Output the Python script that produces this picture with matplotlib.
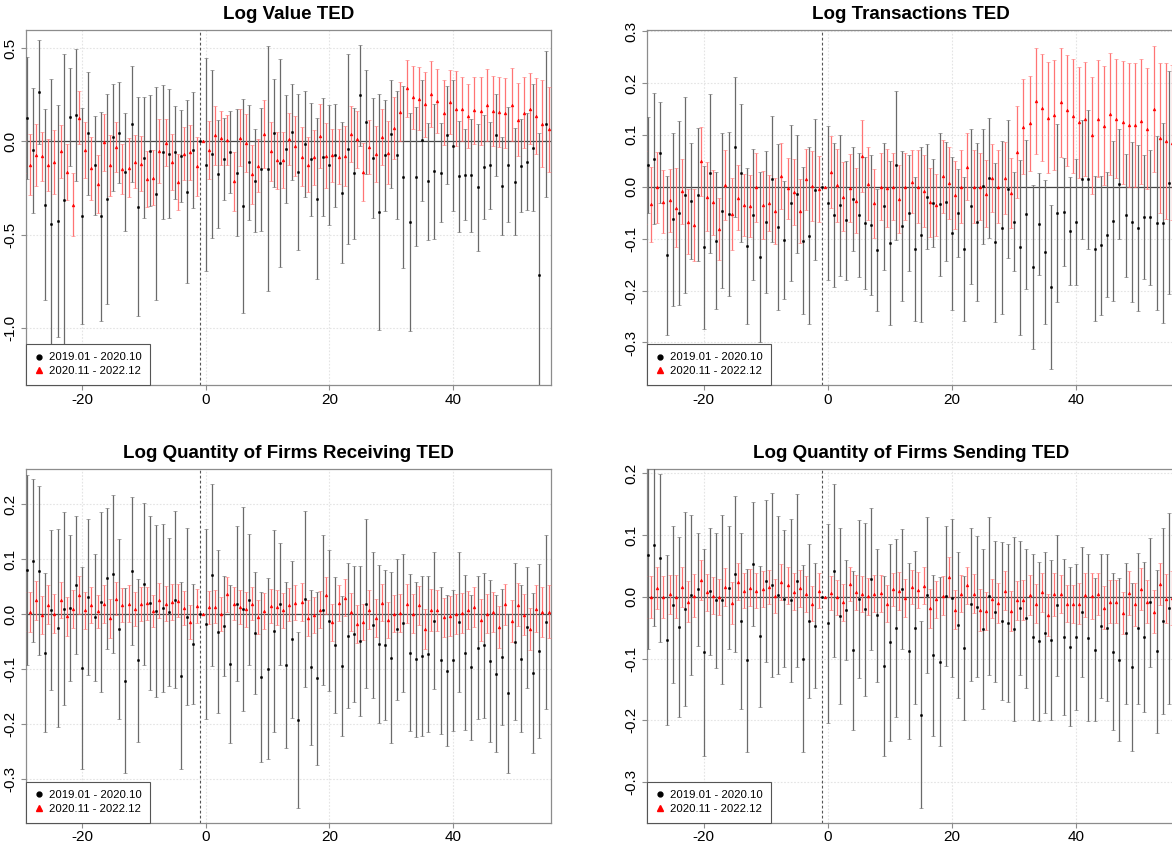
import matplotlib
matplotlib.use("Agg")
import matplotlib.pyplot as plt
import numpy as np
from matplotlib.lines import Line2D

plt.rcParams['font.family'] = ['Liberation Sans', 'DejaVu Sans']
plt.rcParams['axes.unicode_minus'] = False

# event time (months relative to the change); red series starts one step earlier
t_black = list(range(-29, 56))
t_red = list(range(-30, 56))

legend_labels = ["2019.01 - 2020.10", "2020.11 - 2022.12"]

# ---- Log Value TED ----
value_b_est = [0.124, -0.047, 0.267, -0.339, -0.444, -0.427, -0.312, 0.129, 0.142, -0.401,
               0.043, -0.129, -0.401, -0.310, 0.022, 0.047, -0.165, 0.093, -0.350, -0.088,
               -0.050, -0.280, -0.057, -0.066, -0.059, -0.079, -0.269, -0.045, 0.0, -0.125,
               -0.068, -0.176, -0.093, -0.056, -0.167, -0.348, -0.113, -0.210, -0.149, -0.147,
               0.043, -0.116, -0.039, 0.052, -0.165, -0.014, -0.097, -0.308, -0.086, -0.127,
               -0.075, -0.276, -0.041, -0.172, 0.247, 0.104, -0.090, -0.380, -0.075, 0.041,
               -0.073, -0.192, -0.435, -0.190, 0.005, -0.215, -0.161, -0.168, 0.034, -0.022,
               -0.188, -0.179, -0.183, -0.247, -0.136, -0.129, 0.034, -0.238, -0.125, -0.217,
               -0.131, -0.109, -0.034, -0.715, 0.093]
value_b_ci = [0.328, 0.335, 0.279, 0.515, 0.778, 0.624, 0.78, 0.263, 0.354, 0.582,
              0.33, 0.266, 0.561, 0.562, 0.288, 0.27, 0.316, 0.312, 0.59, 0.325,
              0.297, 0.572, 0.358, 0.347, 0.25, 0.247, 0.49, 0.31, 0.0, 0.573,
              0.453, 0.29, 0.22, 0.22, 0.343, 0.575, 0.31, 0.279, 0.33, 0.657,
              0.29, 0.557, 0.29, 0.257, 0.418, 0.287, 0.305, 0.431, 0.317, 0.324,
              0.277, 0.378, 0.51, 0.353, 0.272, 0.277, 0.323, 0.632, 0.298, 0.29,
              0.341, 0.487, 0.585, 0.374, 0.323, 0.314, 0.361, 0.267, 0.263, 0.353,
              0.3, 0.243, 0.302, 0.341, 0.278, 0.235, 0.219, 0.264, 0.31, 0.287,
              0.25, 0.26, 0.34, 0.758, 0.39]
value_r_est = [-0.08, -0.125, -0.072, -0.081, -0.127, -0.111, -0.054, -0.165, -0.34, 0.127,
               -0.045, -0.145, -0.228, -0.005, -0.129, -0.03, -0.15, -0.142, -0.109, -0.12,
               -0.203, -0.194, -0.052, -0.007, -0.111, -0.219, -0.065, -0.059, -0.134, 0.0,
               -0.048, 0.032, 0.016, 0.007, -0.215, 0.02, -0.009, -0.177, -0.131, 0.039,
               -0.054, -0.102, -0.1, 0.011, -0.025, -0.082, -0.125, -0.086, 0.029, -0.077,
               -0.075, -0.082, -0.077, 0.038, 0.011, -0.165, -0.029, -0.068, 0.023, -0.061,
               0.073, 0.16, 0.285, 0.237, 0.228, 0.199, 0.254, 0.219, 0.154, 0.21,
               0.176, 0.174, 0.138, 0.168, 0.163, 0.197, 0.165, 0.158, 0.152, 0.197,
               0.116, 0.154, 0.176, 0.138, 0.095, 0.065]
value_r_ci = [0.09, 0.164, 0.166, 0.134, 0.14, 0.17, 0.142, 0.152, 0.168, 0.142,
              0.149, 0.169, 0.155, 0.152, 0.165, 0.133, 0.134, 0.159, 0.142, 0.147,
              0.15, 0.15, 0.174, 0.127, 0.152, 0.151, 0.142, 0.147, 0.158, 0.0,
              0.156, 0.159, 0.145, 0.134, 0.156, 0.154, 0.155, 0.16, 0.142, 0.184,
              0.156, 0.151, 0.152, 0.139, 0.161, 0.158, 0.149, 0.147, 0.172, 0.175,
              0.144, 0.146, 0.161, 0.15, 0.152, 0.155, 0.146, 0.151, 0.152, 0.168,
              0.165, 0.157, 0.153, 0.169, 0.169, 0.174, 0.178, 0.172, 0.174, 0.171,
              0.203, 0.17, 0.171, 0.18, 0.181, 0.194, 0.187, 0.186, 0.186, 0.196,
              0.195, 0.191, 0.191, 0.204, 0.233, 0.228]

# ---- Log Transactions TED ----
trans_b_est = [0.042, 0.054, 0.066, -0.132, -0.063, -0.05, -0.016, -0.028, -0.015, -0.117,
               0.026, -0.104, -0.046, -0.053, 0.077, 0.026, -0.114, -0.054, -0.135, -0.068,
               0.015, -0.077, -0.102, -0.031, -0.014, -0.104, -0.094, -0.006, 0.0, -0.031,
               -0.054, -0.036, -0.065, -0.023, -0.054, -0.07, -0.073, -0.122, -0.038, -0.109,
               0.041, -0.076, -0.05, -0.12, -0.092, -0.019, -0.032, -0.034, -0.029, -0.09,
               -0.05, -0.12, -0.038, -0.068, 0.001, 0.017, -0.107, -0.079, -0.005, -0.067,
               -0.117, -0.053, -0.155, -0.072, -0.126, -0.194, -0.051, -0.049, -0.086, -0.068,
               0.014, 0.014, -0.119, -0.113, -0.092, -0.066, 0.006, -0.055, -0.068, -0.079,
               -0.058, -0.059, -0.07, -0.07, 0.008]
trans_b_ci = [0.092, 0.126, 0.097, 0.153, 0.166, 0.177, 0.189, 0.112, 0.129, 0.157,
              0.153, 0.132, 0.149, 0.158, 0.135, 0.133, 0.15, 0.126, 0.164, 0.137,
              0.121, 0.16, 0.114, 0.15, 0.113, 0.142, 0.17, 0.136, 0.0, 0.148,
              0.139, 0.136, 0.115, 0.1, 0.12, 0.127, 0.135, 0.118, 0.122, 0.158,
              0.143, 0.144, 0.112, 0.139, 0.168, 0.101, 0.085, 0.137, 0.115, 0.147,
              0.085, 0.138, 0.149, 0.153, 0.111, 0.116, 0.153, 0.167, 0.133, 0.095,
              0.169, 0.144, 0.158, 0.098, 0.139, 0.158, 0.171, 0.104, 0.104, 0.122,
              0.115, 0.133, 0.139, 0.134, 0.121, 0.155, 0.106, 0.119, 0.155, 0.16,
              0.12, 0.13, 0.167, 0.193, 0.215]
trans_r_est = [-0.001, -0.034, -0.001, -0.029, -0.026, -0.04, -0.009, -0.067, -0.074, 0.049,
               -0.019, -0.03, -0.082, 0.003, -0.053, -0.021, -0.035, -0.037, -0.001, -0.035,
               -0.031, -0.047, 0.021, -0.003, -0.01, -0.047, 0.014, 0.001, -0.004, 0.0,
               0.028, 0.003, -0.019, -0.002, -0.027, 0.059, 0.006, -0.032, 0.0, -0.003,
               0.0, -0.024, 0.0, 0.01, 0.0, -0.008, -0.03, -0.035, 0.02, 0.007,
               -0.016, 0.0, 0.039, 0.0, 0.0, -0.013, 0.017, 0.0, 0.017, -0.012,
               0.067, 0.116, 0.122, 0.166, 0.152, 0.133, 0.138, 0.163, 0.147, 0.137,
               0.124, 0.131, 0.099, 0.131, 0.118, 0.14, 0.131, 0.124, 0.119, 0.119,
               0.126, 0.112, 0.15, 0.094, 0.088, 0.085]
trans_r_ci = [0.07, 0.073, 0.068, 0.061, 0.061, 0.076, 0.063, 0.063, 0.07, 0.066,
              0.066, 0.063, 0.06, 0.067, 0.069, 0.063, 0.059, 0.06, 0.066, 0.065,
              0.054, 0.064, 0.064, 0.059, 0.063, 0.062, 0.059, 0.067, 0.064, 0.0,
              0.069, 0.07, 0.067, 0.066, 0.063, 0.07, 0.07, 0.066, 0.065, 0.075,
              0.065, 0.066, 0.065, 0.06, 0.07, 0.07, 0.066, 0.06, 0.07, 0.07,
              0.065, 0.07, 0.065, 0.07, 0.065, 0.065, 0.065, 0.07, 0.07, 0.067,
              0.088, 0.091, 0.092, 0.102, 0.103, 0.107, 0.106, 0.105, 0.107, 0.11,
              0.107, 0.11, 0.112, 0.113, 0.115, 0.118, 0.115, 0.118, 0.12, 0.12,
              0.12, 0.116, 0.121, 0.144, 0.15, 0.15]

# ---- Log Quantity of Firms Receiving TED ----
recv_b_est = [0.08, 0.097, 0.079, -0.07, 0.007, -0.025, 0.01, 0.011, 0.053, -0.098,
              0.031, -0.006, 0.022, 0.065, 0.073, -0.027, -0.121, 0.078, -0.084, 0.055,
              0.02, 0.005, 0.011, 0.004, 0.026, -0.112, -0.005, -0.055, 0.0, -0.018,
              0.071, -0.032, -0.021, -0.091, 0.019, 0.009, 0.026, -0.035, -0.114, -0.099,
              -0.031, 0.018, -0.092, -0.046, -0.193, 0.027, -0.097, -0.117, 0.007, -0.012,
              -0.056, -0.094, -0.039, -0.036, -0.049, 0.019, -0.02, -0.054, -0.056, -0.079,
              -0.028, -0.016, -0.07, -0.082, -0.076, -0.073, -0.012, -0.084, -0.103, -0.084,
              -0.015, -0.07, -0.097, -0.061, -0.057, -0.085, -0.108, -0.078, -0.144, -0.05,
              -0.081, -0.024, -0.107, -0.067, -0.015]
recv_b_ci = [0.172, 0.148, 0.154, 0.145, 0.145, 0.18, 0.176, 0.132, 0.125, 0.184,
             0.142, 0.116, 0.164, 0.128, 0.144, 0.163, 0.168, 0.135, 0.148, 0.147,
             0.158, 0.156, 0.153, 0.135, 0.161, 0.17, 0.161, 0.109, 0.0, 0.172,
             0.165, 0.148, 0.091, 0.143, 0.141, 0.185, 0.119, 0.111, 0.154, 0.165,
             0.184, 0.111, 0.151, 0.142, 0.16, 0.16, 0.141, 0.158, 0.136, 0.128,
             0.124, 0.127, 0.132, 0.124, 0.137, 0.154, 0.133, 0.143, 0.136, 0.156,
             0.128, 0.125, 0.142, 0.141, 0.145, 0.142, 0.124, 0.133, 0.137, 0.128,
             0.127, 0.141, 0.132, 0.13, 0.131, 0.147, 0.142, 0.124, 0.145, 0.142,
             0.134, 0.11, 0.145, 0.158, 0.158]
recv_r_est = [0.005, 0.004, 0.025, -0.002, 0.017, 0.001, 0.026, -0.004, 0.009, 0.035,
              0.007, 0.016, 0.005, 0.018, -0.008, 0.028, 0.016, 0.019, 0.01, 0.019,
              0.02, 0.006, 0.025, 0.019, 0.022, 0.024, 0.011, -0.015, 0.014, 0.0,
              0.012, 0.013, 0.0, 0.036, 0.019, 0.013, 0.009, 0.019, -0.005, 0.005,
              0.014, 0.012, 0.007, 0.017, 0.021, 0.022, -0.007, -0.002, 0.008, 0.034,
              -0.015, 0.02, 0.03, 0.004, -0.018, -0.014, 0.008, -0.007, 0.021, -0.011,
              0.001, 0.002, 0.019, 0.001, 0.016, -0.027, 0.007, 0.007, -0.006, -0.003,
              0.0, 0.002, 0.007, 0.013, -0.01, 0.001, 0.004, -0.023, 0.018, -0.013,
              0.017, -0.001, -0.027, 0.01, 0.004, 0.004]
recv_r_ci = [0.036, 0.036, 0.035, 0.035, 0.035, 0.036, 0.033, 0.035, 0.035, 0.034,
             0.034, 0.033, 0.03, 0.034, 0.036, 0.03, 0.031, 0.033, 0.031, 0.031,
             0.03, 0.029, 0.032, 0.032, 0.033, 0.03, 0.031, 0.031, 0.031, 0.0,
             0.03, 0.03, 0.031, 0.032, 0.03, 0.031, 0.032, 0.03, 0.031, 0.033,
             0.031, 0.032, 0.032, 0.03, 0.031, 0.034, 0.033, 0.033, 0.034, 0.034,
             0.033, 0.032, 0.034, 0.035, 0.035, 0.033, 0.035, 0.035, 0.034, 0.033,
             0.034, 0.035, 0.036, 0.035, 0.035, 0.036, 0.038, 0.037, 0.036, 0.036,
             0.037, 0.037, 0.035, 0.036, 0.038, 0.036, 0.037, 0.038, 0.037, 0.038,
             0.039, 0.037, 0.038, 0.043, 0.045, 0.048]

# ---- Log Quantity of Firms Sending TED ----
send_b_est = [0.067, 0.084, 0.063, -0.07, -0.013, -0.049, -0.02, 0.003, 0.012, -0.09,
              0.009, -0.006, -0.005, 0.015, 0.037, -0.039, -0.103, 0.053, -0.064, 0.025,
              0.019, 0.003, -0.003, -0.006, 0.026, -0.1, -0.039, -0.047, 0.0, -0.043,
              0.042, -0.031, -0.022, -0.087, -0.003, -0.02, 0.029, -0.03, -0.112, -0.074,
              -0.05, 0.012, -0.088, -0.05, -0.191, 0.003, -0.095, -0.105, 0.001, -0.002,
              -0.046, -0.083, -0.012, -0.016, -0.052, 0.002, -0.024, -0.039, -0.043, -0.052,
              -0.018, -0.035, -0.065, -0.072, -0.058, -0.07, -0.014, -0.065, -0.081, -0.065,
              -0.025, -0.066, -0.086, -0.047, -0.05, -0.089, -0.102, -0.059, -0.114, -0.051,
              -0.065, -0.009, -0.088, -0.039, -0.019]
send_b_ci = [0.152, 0.132, 0.136, 0.137, 0.127, 0.146, 0.157, 0.13, 0.092, 0.168,
             0.103, 0.109, 0.137, 0.099, 0.126, 0.142, 0.148, 0.1, 0.114, 0.131,
             0.149, 0.128, 0.111, 0.132, 0.14, 0.152, 0.125, 0.101, 0.0, 0.161,
             0.14, 0.143, 0.081, 0.128, 0.128, 0.14, 0.115, 0.108, 0.146, 0.16,
             0.144, 0.097, 0.142, 0.124, 0.151, 0.127, 0.13, 0.137, 0.113, 0.128,
             0.118, 0.116, 0.124, 0.114, 0.129, 0.128, 0.114, 0.128, 0.128, 0.149,
             0.109, 0.113, 0.135, 0.129, 0.131, 0.129, 0.114, 0.126, 0.129, 0.118,
             0.105, 0.135, 0.116, 0.117, 0.119, 0.127, 0.132, 0.114, 0.136, 0.122,
             0.122, 0.104, 0.132, 0.151, 0.155]
send_r_est = [0.0, 0.0, 0.014, -0.001, 0.004, 0.0, 0.016, -0.008, 0.002, 0.027,
              0.007, 0.002, -0.001, 0.016, -0.01, 0.024, 0.01, 0.015, 0.01, 0.012,
              0.016, 0.001, 0.024, 0.019, 0.008, 0.014, 0.005, -0.011, 0.01, 0.0,
              0.006, -0.001, -0.009, 0.021, 0.007, 0.004, 0.001, 0.005, 0.006, -0.011,
              0.012, 0.009, -0.002, 0.016, 0.011, 0.018, -0.019, -0.004, 0.002, 0.032,
              -0.021, 0.005, 0.019, 0.005, -0.021, -0.023, -0.003, -0.01, 0.01, -0.023,
              -0.006, -0.005, 0.003, -0.011, 0.007, -0.029, 0.004, 0.004, -0.011, -0.012,
              -0.011, 0.003, 0.001, 0.004, -0.018, -0.008, -0.008, -0.026, 0.006, -0.012,
              0.013, -0.008, -0.024, 0.021, -0.003, -0.002]
send_r_ci = [0.034, 0.034, 0.034, 0.034, 0.032, 0.035, 0.032, 0.033, 0.035, 0.033,
             0.03, 0.03, 0.029, 0.031, 0.034, 0.03, 0.029, 0.03, 0.029, 0.029,
             0.028, 0.028, 0.029, 0.03, 0.03, 0.03, 0.029, 0.028, 0.028, 0.0,
             0.028, 0.028, 0.03, 0.028, 0.028, 0.029, 0.03, 0.03, 0.03, 0.03,
             0.027, 0.031, 0.03, 0.027, 0.029, 0.03, 0.032, 0.03, 0.031, 0.032,
             0.032, 0.03, 0.03, 0.032, 0.034, 0.031, 0.032, 0.032, 0.032, 0.032,
             0.031, 0.032, 0.032, 0.032, 0.031, 0.034, 0.035, 0.031, 0.03, 0.031,
             0.033, 0.035, 0.037, 0.034, 0.035, 0.035, 0.035, 0.034, 0.035, 0.035,
             0.034, 0.035, 0.035, 0.034, 0.04, 0.043]

titles = ["Log Value TED", "Log Transactions TED",
          "Log Quantity of Firms Receiving TED", "Log Quantity of Firms Sending TED"]
yticks = [[-1.0, -0.5, 0.0, 0.5],
          [-0.3, -0.2, -0.1, 0.0, 0.1, 0.2, 0.3],
          [-0.3, -0.2, -0.1, 0.0, 0.1, 0.2],
          [-0.3, -0.2, -0.1, 0.0, 0.1, 0.2]]
ylims = [(-1.308, 0.598), (-0.382, 0.302), (-0.379, 0.263), (-0.366, 0.2065)]
xticks = [-20, 0, 20, 40]

series = [(value_b_est, value_b_ci, value_r_est, value_r_ci),
          (trans_b_est, trans_b_ci, trans_r_est, trans_r_ci),
          (recv_b_est, recv_b_ci, recv_r_est, recv_r_ci),
          (send_b_est, send_b_ci, send_r_est, send_r_ci)]

# axes boxes in figure fractions (right column runs off the right edge)
boxes = [[0.0222, 0.5449, 0.4480, 0.4196],
         [0.5523, 0.5449, 0.4500, 0.4196],
         [0.0222, 0.0275, 0.4480, 0.4178],
         [0.5523, 0.0275, 0.4500, 0.4178]]

fig = plt.figure(figsize=(11.72, 8.46), dpi=100)
spine_col = '#8c8c8c'

for i in range(4):
    ax = fig.add_axes(boxes[i])
    b_est, b_ci, r_est, r_ci = series[i]
    xr = np.array(t_red) + 0.5

    ax.grid(True, color='#e4e4e4', ls=(0, (1.5, 1.5)), lw=0.8)
    ax.set_axisbelow(True)
    ax.axhline(0, color='#444444', lw=0.9, zorder=1.5)
    ax.axvline(-1, color='#555555', lw=0.8, ls=(0, (2.5, 2)), zorder=1.5)

    ax.errorbar(t_black, b_est, yerr=b_ci, fmt='o', ms=1.6, mew=0.4, mfc='black', mec='black',
                ecolor='#6a6a6a', elinewidth=0.9, capsize=1.4, capthick=0.9, zorder=3)
    ax.errorbar(xr, r_est, yerr=r_ci, fmt='^', ms=2.0, mew=0.4, mfc='red', mec='red',
                ecolor='#ff7474', elinewidth=0.9, capsize=1.4, capthick=0.9, zorder=3)

    ax.set_xticks(xticks)
    ax.set_yticks(yticks[i])
    ax.set_xlim(-29.1, 55.9)
    ax.set_ylim(*ylims[i])
    ax.set_yticklabels(["%.1f" % v for v in yticks[i]], rotation=90, va='center')
    ax.tick_params(direction='out', length=3.5, width=0.8, color=spine_col,
                   labelsize=11)
    ax.tick_params(axis='x', pad=2)
    ax.tick_params(axis='y', pad=3)
    for s in ax.spines.values():
        s.set_color(spine_col)
        s.set_linewidth(0.9)

    ax.set_title(titles[i], fontweight='bold', fontsize=13.5, pad=8)

    handles = [Line2D([], [], ls='none', marker='o', ms=3.5, color='black'),
               Line2D([], [], ls='none', marker='^', ms=4.2, color='red')]
    leg = ax.legend(handles, legend_labels, loc='lower left', borderaxespad=0,
                    fancybox=False, edgecolor='#555555', framealpha=1, fontsize=8.2,
                    handlelength=0.8, handletextpad=0.45, borderpad=0.75,
                    labelspacing=0.35)
    leg.get_frame().set_linewidth(0.8)
    leg.set_zorder(10)

fig.savefig('out.png', dpi=100)
